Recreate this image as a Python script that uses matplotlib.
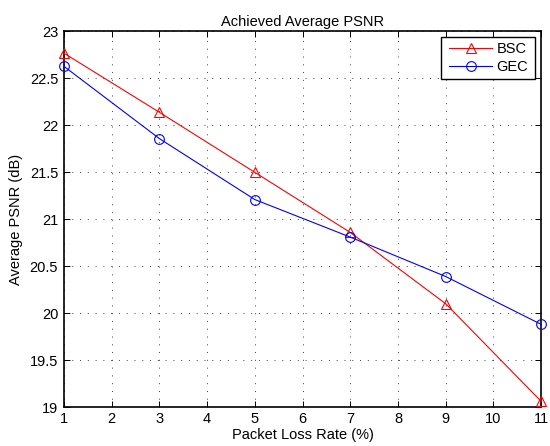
import matplotlib
matplotlib.use("Agg")
import matplotlib.pyplot as plt
from matplotlib.patches import Rectangle

loss_rate = [1, 3, 5, 7, 9, 11]
psnr_bsc = [22.77, 22.14, 21.50, 20.86, 20.10, 19.06]
psnr_gec = [22.63, 21.86, 21.21, 20.81, 20.39, 19.88]
x_ticks = list(range(1, 12))
y_ticks = [19, 19.5, 20, 20.5, 21, 21.5, 22, 22.5, 23]
y_tick_labels = ["19", "19.5", "20", "20.5", "21", "21.5", "22", "22.5", "23"]

plt.rcParams["font.family"] = ["Liberation Sans", "DejaVu Sans"]
plt.rcParams["font.size"] = 10.5

fig = plt.figure(figsize=(5.5, 4.46), dpi=100)
ax = fig.add_axes([0.116, 0.0874, 0.868, 0.842])

ax.plot(loss_rate, psnr_bsc, color="#ff0000", lw=0.8, marker="^", ms=7.5,
        mfc="none", mec="#ff0000", mew=0.8, label="BSC", clip_on=False, zorder=3)
ax.plot(loss_rate, psnr_gec, color="#0000ff", lw=0.8, marker="o", ms=7,
        mfc="none", mec="#0000ff", mew=0.8, label="GEC", clip_on=False, zorder=3)

ax.set_xlim(1, 11)
ax.set_ylim(19, 23)
ax.set_xticks(x_ticks)
ax.set_yticks(y_ticks)
ax.set_yticklabels(y_tick_labels)

ax.grid(True, linestyle=(0, (1, 7)), color="black", lw=0.7, alpha=0.75)
ax.tick_params(direction="in", top=True, right=True, length=4, width=0.7,
               labelsize=10.5)
ax.tick_params(axis="y", pad=4)
ax.tick_params(axis="x", pad=3.5)
for s in ax.spines.values():
    s.set_linewidth(1.2)

ax.set_title("Achieved Average PSNR", fontsize=10.5, pad=4)
ax.set_xlabel("Packet Loss Rate (%)", fontsize=10.5, labelpad=1.5)
ax.set_ylabel("Average PSNR (dB)", fontsize=10.5, labelpad=4.8)

# legend entries without their own frame; a plain box is drawn around them
leg = ax.legend(loc="upper left", bbox_to_anchor=(0.798, 0.984),
                borderaxespad=0, frameon=False, fontsize=10.5,
                handlelength=2.95, labelspacing=0.3, borderpad=0.3,
                handletextpad=0.3)
leg.set_zorder(6)
box = Rectangle((0.790, 0.873), 0.196, 0.111, transform=ax.transAxes,
                facecolor="white", edgecolor="black", lw=1.0, zorder=5)
ax.add_patch(box)

fig.savefig("out.png", dpi=100)
